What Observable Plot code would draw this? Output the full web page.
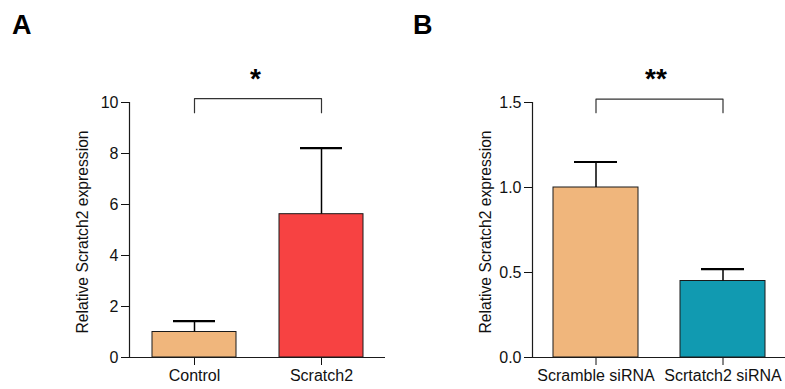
<!DOCTYPE html>
<html>
<head>
<meta charset="utf-8">
<script src="https://cdn.jsdelivr.net/npm/d3@7"></script>
<script src="https://cdn.jsdelivr.net/npm/@observablehq/plot@0.6"></script>
<style>
  html, body { margin: 0; padding: 0; background: #fff; }
  #wrap { position: relative; width: 785px; height: 389px; font-family: "Liberation Sans", Arial, sans-serif; }
  .panel { position: absolute; top: 0; }
  .tag { position: absolute; font-weight: bold; font-size: 27px; line-height: 27px; color: #000; }
</style>
</head>
<body>
<div id="wrap">
  <div class="tag" style="left:12px; top:12px;">A</div>
  <div class="tag" style="left:413px; top:12px;">B</div>
  <div id="pa" class="panel" style="left:0px;"></div>
  <div id="pb" class="panel" style="left:400px;"></div>
</div>
<script>
// ---- data ----
const yLabel = "Relative Scratch2 expression";

const groupsA = ["Control", "Scratch2"];
const meansA = [1.0, 5.62];
const upperA = [1.43, 8.21];
const colorsA = ["#F0B67C", "#F74242"];
const ticksA = [0, 2, 4, 6, 8, 10];
const sigA = "*";
const bracketA = [9.6, 10.15];

const groupsB = ["Scramble siRNA", "Scrtatch2 siRNA"];
const meansB = [1.0, 0.45];
const upperB = [1.15, 0.52];
const colorsB = ["#F0B67C", "#119AB1"];
const ticksB = [0, 0.5, 1.0, 1.5];
const sigB = "**";
const bracketB = [1.44, 1.52];

function panel(o) {
  const data = o.groups.map((g, i) => ({g, v: o.means[i], e: o.upper[i]}));
  const br = [
    {g: o.groups[0], y: o.bracket[0]},
    {g: o.groups[0], y: o.bracket[1]},
    {g: o.groups[1], y: o.bracket[1]},
    {g: o.groups[1], y: o.bracket[0]}
  ];
  return Plot.plot({
    width: o.width,
    height: 389,
    marginLeft: o.marginLeft,
    marginRight: o.marginRight,
    marginTop: 102,
    marginBottom: 32,
    style: {fontFamily: '"Liberation Sans", Arial, sans-serif', fontSize: "16px", color: "#111", background: "transparent", overflow: "visible"},
    x: {domain: o.groups, paddingInner: o.pi, paddingOuter: o.po, label: null, tickSize: 8, tickPadding: 4},
    y: {domain: [0, o.ticks[o.ticks.length - 1]], ticks: o.ticks, tickFormat: o.fmt, label: null, tickSize: 8, tickPadding: 3},
    color: {domain: o.groups, range: o.colors},
    marks: [
      Plot.barY(data, {x: "g", y: "v", fill: "g", stroke: "#1a1a1a", strokeWidth: 1}),
      Plot.ruleX(data, {x: "g", y1: "v", y2: "e", stroke: "#000", strokeWidth: 1.5}),
      Plot.tickY(data, {x: "g", y: "e", stroke: "#000", strokeWidth: 2.2, insetLeft: 21, insetRight: 21}),
      Plot.ruleY([0], {stroke: "#1a1a1a", strokeWidth: 1.2}),
      Plot.frame({anchor: "left", stroke: "#1a1a1a", strokeWidth: 1.2}),
      Plot.line(br, {x: "g", y: "y", stroke: "#333", strokeWidth: 1.2}),
      Plot.text([o.sig], {text: d => d, frameAnchor: "top", lineAnchor: "middle", textAnchor: "middle", dx: o.sigDx, dy: -23, fontSize: 28, fontWeight: "bold", fill: "#000"}),
      Plot.text([yLabel], {text: d => d, frameAnchor: "left", textAnchor: "middle", lineAnchor: "middle", dx: -47, dy: 2, rotate: -90, fontSize: 15.7, fill: "#111"})
    ]
  });
}

document.getElementById("pa").appendChild(panel({
  groups: groupsA, means: meansA, upper: upperA, colors: colorsA, ticks: ticksA,
  fmt: d3.format("d"), sig: sigA, bracket: bracketA, sigDx: -2,
  width: 392, marginLeft: 129, marginRight: 7, pi: 0.339, po: 0.177
}));
document.getElementById("pb").appendChild(panel({
  groups: groupsB, means: meansB, upper: upperB, colors: colorsB, ticks: ticksB,
  fmt: d3.format(".1f"), sig: sigB, bracket: bracketB, sigDx: -3,
  width: 385, marginLeft: 132, marginRight: 0, pi: 0.331, po: 0.161
}));
</script>
</body>
</html>
